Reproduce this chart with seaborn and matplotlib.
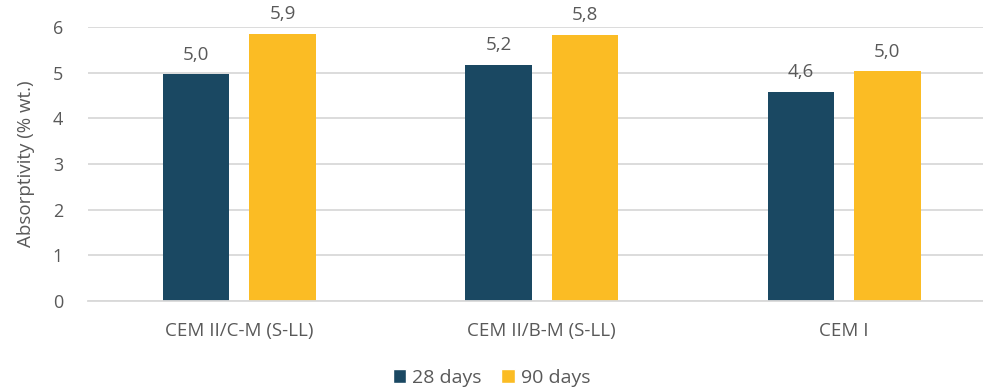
import matplotlib
matplotlib.use("Agg")
import matplotlib.pyplot as plt
import seaborn as sns
import pandas as pd
from matplotlib.patches import Patch

categories = ["CEM II/C-M (S-LL)", "CEM II/B-M (S-LL)", "CEM I"]
series = ["28 days", "90 days"]
values_28 = [4.97, 5.17, 4.58]
values_90 = [5.85, 5.83, 5.03]
labels_28 = ["5,0", "5,2", "4,6"]
labels_90 = ["5,9", "5,8", "5,0"]
yticks = [0, 1, 2, 3, 4, 5, 6]

colors = ["#1A4862", "#FBBC24"]
text_color = "#595959"

df = pd.DataFrame({
    "cement": categories * 2,
    "age": [series[0]] * 3 + [series[1]] * 3,
    "value": values_28 + values_90,
})

sns.set_theme(style="white")
plt.rcParams["font.family"] = ["Open Sans", "DejaVu Sans"]

fig = plt.figure(figsize=(9.83, 3.87), dpi=100)
ax = fig.add_axes([88 / 983, 1 - 301 / 387, 1 - 88 / 983, (301 - 27) / 387])

sns.barplot(data=df, x="cement", y="value", hue="age", order=categories,
            hue_order=series, palette=colors, width=0.572, gap=0.23,
            saturation=1, ax=ax, legend=False, errorbar=None, linewidth=0)

for cont, labs in zip(ax.containers, [labels_28, labels_90]):
    ax.bar_label(cont, labels=labs, padding=7.5, fontsize=13.5, color=text_color,
                 clip_on=False)

ax.set_ylim(0, 6)
ax.set_xlim(-0.5, 2.459)
ax.set_yticks(yticks)
ax.set_yticklabels([str(t) for t in yticks], fontsize=13, color=text_color)
ax.tick_params(axis="x", labelsize=13.5, labelcolor=text_color, length=0, pad=15)
ax.tick_params(axis="y", length=0, pad=18)
ax.yaxis.grid(True, color="#D9D9D9", linewidth=1.3)
ax.set_axisbelow(True)
for s in ["top", "right", "left"]:
    ax.spines[s].set_visible(False)
ax.spines["bottom"].set_color("#D9D9D9")
ax.spines["bottom"].set_linewidth(1.3)
ax.set_xlabel("")
ax.set_ylabel("Absorptivity (% wt.)", fontsize=13.5, color=text_color, labelpad=13)

handles = [Patch(facecolor=c, label=s) for c, s in zip(colors, series)]
fig.legend(handles=handles, loc="lower center", bbox_to_anchor=(0.5, -0.045),
           ncol=2, frameon=False, fontsize=14, handlelength=0.7, handleheight=0.7,
           handletextpad=0.3, columnspacing=1.0, labelcolor=text_color)

fig.savefig("out.png", dpi=100)
